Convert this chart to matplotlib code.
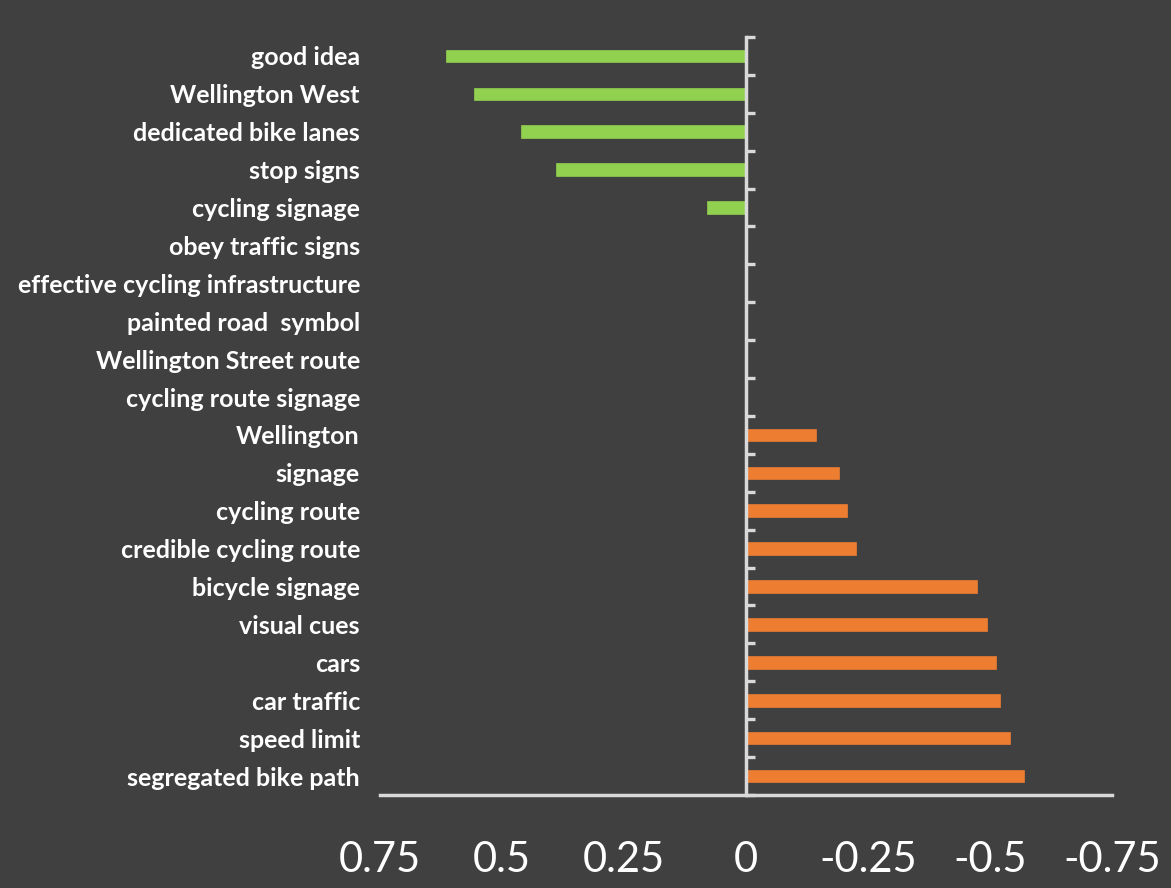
import numpy as np
import matplotlib.pyplot as plt

# categories, top to bottom
terms = ["good idea", "Wellington West", "dedicated bike lanes", "stop signs",
         "cycling signage", "obey traffic signs", "effective cycling infrastructure",
         "painted road  symbol", "Wellington Street route", "cycling route signage",
         "Wellington", "signage", "cycling route", "credible cycling route",
         "bicycle signage", "visual cues", "cars", "car traffic", "speed limit",
         "segregated bike path"]
scores = [0.615, 0.558, 0.462, 0.390, 0.080, 0.0, 0.0, 0.0, 0.0, 0.0,
          -0.144, -0.191, -0.206, -0.225, -0.474, -0.493, -0.512, -0.521,
          -0.540, -0.569]
ticks = [0.75, 0.5, 0.25, 0, -0.25, -0.5, -0.75]
tick_labels = ["0.75", "0.5", "0.25", "0", "-0.25", "-0.5", "-0.75"]

bg = "#404040"
axis_col = "#d9d9d9"
green = "#92d050"
orange = "#ed7d31"

fig = plt.figure(figsize=(11.71, 8.88), dpi=100, facecolor=bg)
ax = fig.add_axes([380/1171, 93/888, 732/1171, 758/888])
ax.set_facecolor(bg)

y = np.arange(len(terms))
cols = [green if s > 0 else orange for s in scores]
ax.barh(y, scores, height=0.33, color=cols, edgecolor=cols, linewidth=0.5)

ax.set_xlim(0.75, -0.75)
ax.set_ylim(len(terms) - 0.5, -0.5)

for s in ["top", "right"]:
    ax.spines[s].set_visible(False)
ax.spines["left"].set_position(("data", 0))
ax.spines["left"].set_color(axis_col)
ax.spines["left"].set_linewidth(2.5)
ax.spines["bottom"].set_color(axis_col)
ax.spines["bottom"].set_linewidth(2.5)

ax.set_yticks(y, terms)
ax.set_yticks(np.arange(len(terms) + 1) - 0.5, minor=True)
ax.tick_params(axis="y", which="major", length=0, pad=278)
ax.tick_params(axis="y", which="minor", direction="in", length=6.5, width=2.4,
               color=axis_col)
for lab in ax.get_yticklabels():
    lab.set_family(["Lato", "DejaVu Sans"])
    lab.set_fontweight("bold")
    lab.set_fontsize(18)
    lab.set_color("white")

ax.set_xticks(ticks, tick_labels)
ax.tick_params(axis="x", length=0, pad=33, labelsize=30, labelcolor="white")
for lab in ax.get_xticklabels():
    lab.set_family(["Lato", "DejaVu Sans"])
    lab.set_fontweight("normal")

fig.savefig("out.png", dpi=100, facecolor=bg)
